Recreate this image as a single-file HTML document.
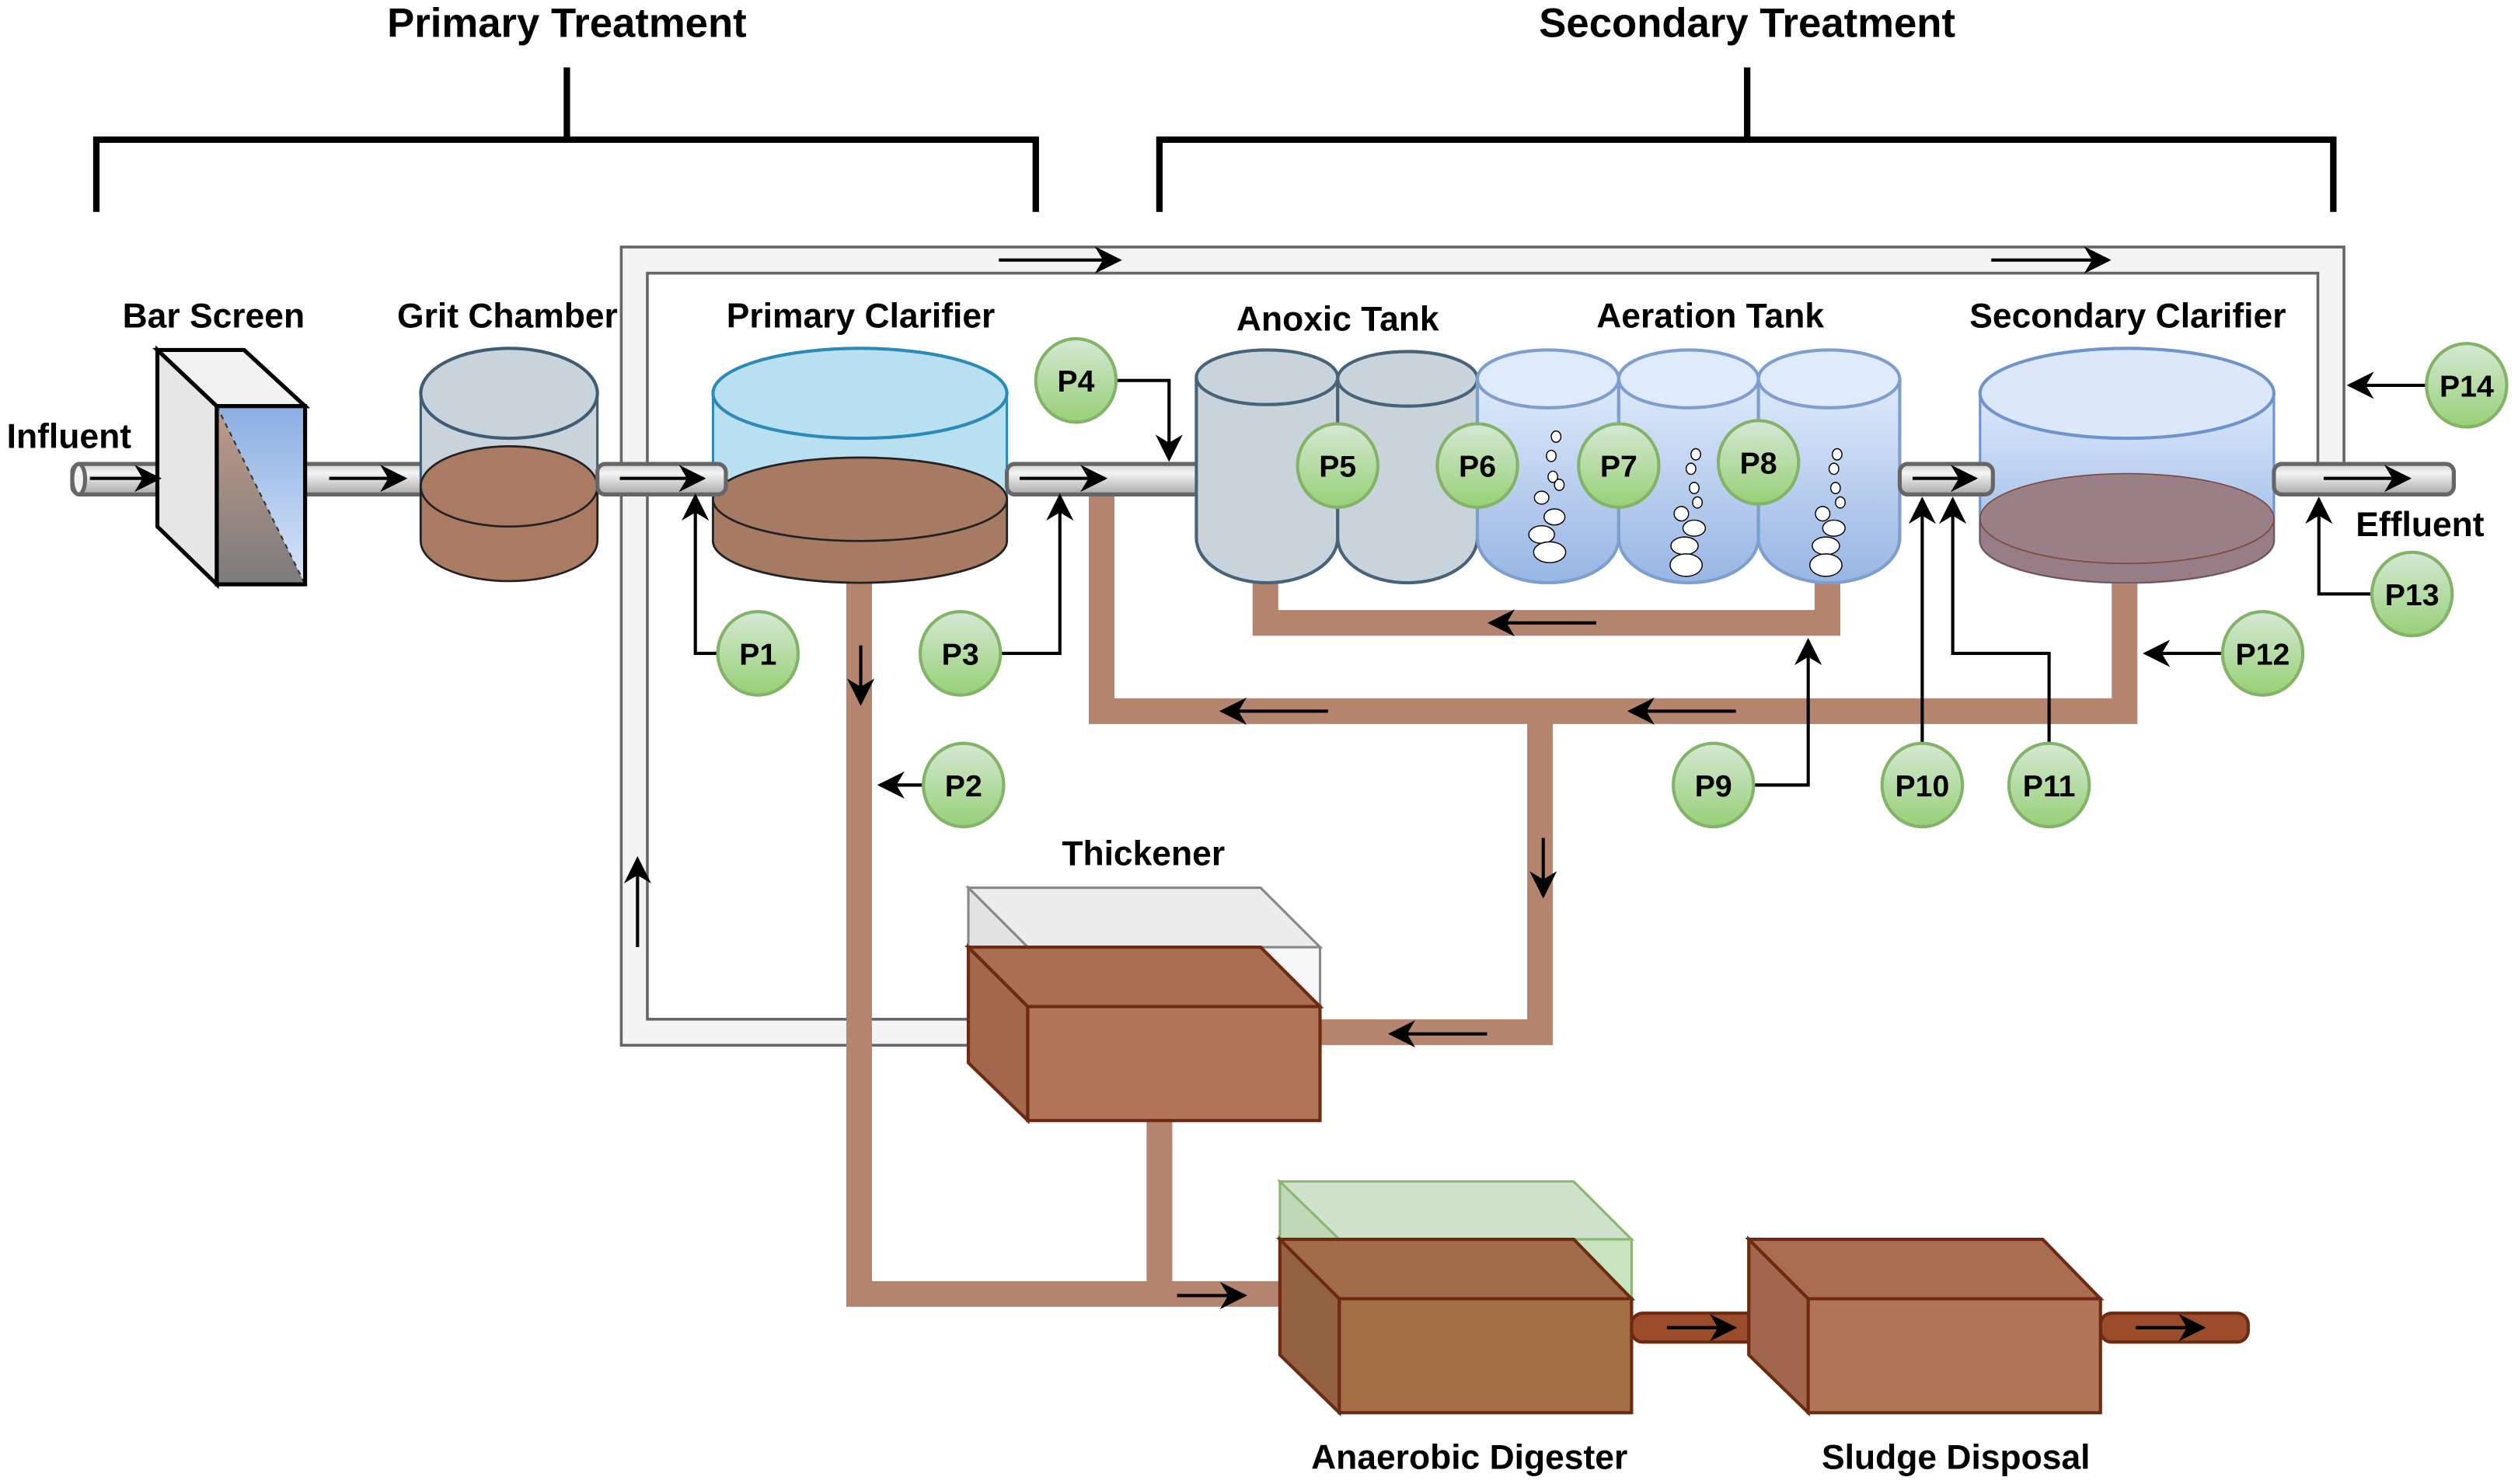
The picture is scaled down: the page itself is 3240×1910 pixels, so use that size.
<!DOCTYPE html>
<html><head><meta charset="utf-8"><style>html,body{margin:0;padding:0;background:#fff}svg{display:block}</style></head>
<body>
<svg width="3240" height="1910" viewBox="0 0 1568 924.4" preserveAspectRatio="none" xmlns="http://www.w3.org/2000/svg" font-family="Liberation Sans, sans-serif" font-weight="bold">
<defs>
<linearGradient id="pipe" x1="0" y1="0" x2="0" y2="1"><stop offset="0" stop-color="#d0d0d0"/><stop offset="0.3" stop-color="#f4f4f4"/><stop offset="1" stop-color="#a8a8a8"/></linearGradient>
<linearGradient id="grn" x1="0" y1="0" x2="0" y2="1"><stop offset="0" stop-color="#d5e8d4"/><stop offset="1" stop-color="#97d077"/></linearGradient>
<linearGradient id="aer" x1="0" y1="0" x2="0" y2="1"><stop offset="0" stop-color="#dfeafa"/><stop offset="1" stop-color="#98b6e4"/></linearGradient>
<linearGradient id="blu" x1="0" y1="0" x2="0" y2="1"><stop offset="0" stop-color="#8aaee2"/><stop offset="1" stop-color="#d8e6fa"/></linearGradient>
<linearGradient id="brn" x1="0" y1="0" x2="0" y2="1"><stop offset="0" stop-color="#c09a88"/><stop offset="1" stop-color="#7c7c7c"/></linearGradient>
<linearGradient id="sec" x1="0" y1="0" x2="0" y2="1"><stop offset="0" stop-color="#dce8fa"/><stop offset="1" stop-color="#8fb1e6"/></linearGradient>
<marker id="ah2" viewBox="0 0 10 10" refX="9" refY="5" markerWidth="17" markerHeight="17" orient="auto" markerUnits="userSpaceOnUse"><path d="M0,0 L10,5 L0,10 L3,5 z" fill="#000"/></marker>
</defs>

<text x="353" y="23" font-size="25.5" text-anchor="middle">Primary Treatment</text>
<text x="1088" y="23" font-size="25.5" text-anchor="middle">Secondary Treatment</text>
<g stroke="#000" stroke-width="4" fill="none">
<path d="M60 132 V87 H645 V132 M353 87 V42"/>
<path d="M722 132 V87 H1453 V132 M1088 87 V42"/>
</g>

<path d="M603 643 H395 V162 H1451.5 V292" fill="none" stroke="#666" stroke-width="18"/>
<path d="M603 643 H395 V162 H1451.5 V292" fill="none" stroke="#f4f4f4" stroke-width="14.5"/>
<g stroke="#000" stroke-width="2" marker-end="url(#ah2)">
<line x1="622" y1="162" x2="697" y2="162"/><line x1="1240" y1="162" x2="1313" y2="162"/>
<line x1="397" y1="590" x2="397" y2="535"/>
</g>

<g fill="none" stroke="#b5846e" stroke-width="16">
<path d="M535 337 V806 H797"/>
<path d="M722 698 V806"/>
<path d="M1323 360 V443 H686 V307"/>
<path d="M959 443 V643 H822"/>
<path d="M788 360 V388 H1138 V360"/>
</g>
<g stroke="#000" stroke-width="2" marker-end="url(#ah2)">
<line x1="536" y1="402" x2="536" y2="438"/>
<line x1="733" y1="807" x2="775" y2="807"/>
<line x1="994" y1="388" x2="928" y2="388"/>
<line x1="1081" y1="443" x2="1015" y2="443"/>
<line x1="827" y1="443" x2="761" y2="443"/>
<line x1="961" y1="522" x2="961" y2="558"/>
<line x1="926" y1="644" x2="866" y2="644"/>
</g>

<g fill="url(#pipe)" stroke="#666" stroke-width="2.5">
<rect x="45" y="289" width="72" height="19" rx="5"/>
<ellipse cx="49" cy="298.5" rx="4" ry="9.5" fill="#f4f4f4"/>
<rect x="180" y="289" width="88" height="19" rx="5"/>
<rect x="372" y="289" width="80" height="19" rx="5"/>
<rect x="627" y="289" width="133" height="19" rx="5"/>
<rect x="1183" y="289" width="58" height="19" rx="5"/>
<rect x="1416" y="289" width="112" height="19" rx="5"/>
</g>

<polygon points="98,218 135,253 135,364 98,328" fill="#e6e6e6" stroke="#000" stroke-width="2.5"/>
<polygon points="98,218 152,218 190,253 135,253" fill="#f2f2f2" stroke="#000" stroke-width="2.5"/>
<rect x="135" y="253" width="55" height="111" fill="url(#blu)"/>
<polygon points="135,253 190,364 135,364" fill="url(#brn)"/>
<line x1="135" y1="253" x2="190" y2="364" stroke="#333" stroke-dasharray="3,3"/>
<rect x="135" y="253" width="55" height="111" fill="none" stroke="#000" stroke-width="2.5"/>

<path d="M262 245 V335 A55 25 0 0 0 372 335 V245" fill="#c8d3dc" stroke="#3f5c72" stroke-width="1.5"/>
<ellipse cx="317" cy="245" rx="55" ry="28" fill="#c8d3dc" stroke="#3f5c72" stroke-width="2"/>
<path d="M262 303 V337 A55 25 0 0 0 372 337 V303" fill="#ab7a63" stroke="#222" stroke-width="1.3"/>
<ellipse cx="317" cy="303" rx="55" ry="25" fill="#ab7a63" stroke="#222" stroke-width="1.3"/>

<path d="M444 245 V337 A91.5 26 0 0 0 627 337 V245" fill="#b9e0f1" stroke="#2b8ab8" stroke-width="1.5"/>
<ellipse cx="535.5" cy="245" rx="91.5" ry="28" fill="#b9e0f1" stroke="#2b8ab8" stroke-width="2"/>
<path d="M444 311 V337 A91.5 26 0 0 0 627 337 V311" fill="#a77a63" stroke="#222" stroke-width="1.3"/>
<ellipse cx="535.5" cy="311" rx="91.5" ry="26" fill="#a77a63" stroke="#222" stroke-width="1.3"/>
<g fill="url(#pipe)" stroke="#666" stroke-width="2.5"><rect x="372" y="289" width="80" height="19" rx="5"/><rect x="627" y="289" width="133" height="19" rx="5"/></g>

<g fill="#c8d3dc" stroke="#47637a" stroke-width="2">
<path d="M745 235 V335 A44 28 0 0 0 833 335 V235 Z"/>
<path d="M833 235 V335 A43.5 28 0 0 0 920 335 V235 Z"/>
<ellipse cx="789" cy="235" rx="44" ry="17"/>
<ellipse cx="876.5" cy="236" rx="43.5" ry="17"/>
</g>
<g fill="url(#aer)" stroke="#7e9ecf" stroke-width="2">
<path d="M920 236 V335 A44 28 0 0 0 1008 335 V236 Z"/>
<path d="M1008 236 V335 A43.5 28 0 0 0 1095 335 V236 Z"/>
<path d="M1095 236 V335 A44 28 0 0 0 1183 335 V236 Z"/>
<ellipse cx="964" cy="236" rx="44" ry="18" fill="#dfeafa"/>
<ellipse cx="1051.5" cy="236" rx="43.5" ry="18" fill="#dfeafa"/>
<ellipse cx="1139" cy="236" rx="44" ry="18" fill="#dfeafa"/>
</g>
<g fill="#fff" stroke="#000" stroke-width="0.7">
<ellipse cx="969" cy="272" rx="3" ry="3.5"/><ellipse cx="966" cy="284" rx="3" ry="3.5"/><ellipse cx="967" cy="297" rx="3" ry="3.5"/><ellipse cx="971" cy="302" rx="3" ry="3.5"/>
<ellipse cx="960" cy="310" rx="4.5" ry="4"/><ellipse cx="968" cy="322" rx="6.5" ry="5"/><ellipse cx="960" cy="333" rx="8" ry="5.5"/><ellipse cx="965" cy="344" rx="10" ry="6.5"/>
<ellipse cx="1056" cy="283" rx="3" ry="3.5"/><ellipse cx="1053" cy="292" rx="3" ry="3.5"/><ellipse cx="1055" cy="304" rx="3" ry="3.5"/><ellipse cx="1057" cy="313" rx="3" ry="3.5"/>
<ellipse cx="1047" cy="320" rx="4.5" ry="4.5"/><ellipse cx="1055" cy="329" rx="7" ry="5"/><ellipse cx="1049" cy="340" rx="8.5" ry="5.5"/><ellipse cx="1050" cy="352" rx="10" ry="7"/>
<ellipse cx="1144" cy="283" rx="3" ry="3.5"/><ellipse cx="1142" cy="292" rx="3" ry="3.5"/><ellipse cx="1143" cy="304" rx="3" ry="3.5"/><ellipse cx="1146" cy="313" rx="3" ry="3.5"/>
<ellipse cx="1135" cy="320" rx="4.5" ry="4.5"/><ellipse cx="1142" cy="329" rx="7" ry="5"/><ellipse cx="1137" cy="340" rx="8.5" ry="5.5"/><ellipse cx="1137" cy="352" rx="10" ry="7"/>
</g>

<path d="M1233 245 V337 A91.5 26 0 0 0 1416 337 V245" fill="url(#sec)" stroke="#6f93cc" stroke-width="1.5"/>
<ellipse cx="1324.5" cy="245" rx="91.5" ry="28" fill="#dce8fa" stroke="#6f93cc" stroke-width="2"/>
<path d="M1233 323 V337 A91.5 26 0 0 0 1416 337 V323" fill="#977d86" stroke="#7a4a40" stroke-width="0.8"/>
<ellipse cx="1324.5" cy="323" rx="91.5" ry="28" fill="#9b7f87" stroke="#7a4a40" stroke-width="0.8"/>
<g fill="url(#pipe)" stroke="#666" stroke-width="2.5"><rect x="1183" y="289" width="58" height="19" rx="5"/><rect x="1416" y="289" width="112" height="19" rx="5"/></g>

<g stroke="#000" stroke-width="2" marker-end="url(#ah2)">
<line x1="56" y1="298" x2="99" y2="298"/>
<line x1="205" y1="298" x2="252" y2="298"/>
<line x1="386" y1="298" x2="438" y2="298"/>
<line x1="635" y1="298" x2="688" y2="298"/>
<line x1="1191" y1="298" x2="1230" y2="298"/>
<line x1="1447" y1="298" x2="1500" y2="298"/>
</g>

<polygon points="603,553 785,553 822,590 640,590" fill="#ececec" stroke="#888" stroke-width="1.5"/>
<polygon points="603,553 640,590 640,627 603,590" fill="#e2e2e2" stroke="#888" stroke-width="1.5"/>
<polygon points="785,590 822,590 822,627 803,627" fill="#f6f6f6" stroke="#888" stroke-width="1.5"/>
<polygon points="603,590 640,627 640,698 603,662" fill="#a1684c" stroke="#6e2a10" stroke-width="2"/>
<polygon points="603,590 785,590 822,627 640,627" fill="#a96f53" stroke="#6e2a10" stroke-width="2"/>
<rect x="640" y="627" width="182" height="71" fill="#b07657" stroke="#6e2a10" stroke-width="2"/>

<polygon points="797,736 980,736 1016,772 834,772" fill="#d0e2cc" stroke="#88b873" stroke-width="1.5"/>
<polygon points="797,736 834,772 834,809 797,772" fill="#c0d8b8" stroke="#88b873" stroke-width="1.5"/>
<polygon points="980,772 1016,772 1016,809" fill="#c8e4bf" stroke="#88b873" stroke-width="1.5"/>
<polygon points="797,772 834,809 834,880 797,844" fill="#936240" stroke="#6e2a10" stroke-width="2"/>
<polygon points="797,772 980,772 1016,809 834,809" fill="#a16c4a" stroke="#6e2a10" stroke-width="2"/>
<rect x="834" y="809" width="182" height="71" fill="#a36e45" stroke="#6e2a10" stroke-width="2"/>

<rect x="1016" y="818" width="92" height="18" rx="7" fill="#9b4d2b" stroke="#6e2a10" stroke-width="2"/>
<rect x="1308" y="818" width="92" height="18" rx="7" fill="#9b4d2b" stroke="#6e2a10" stroke-width="2"/>

<polygon points="1089,772 1126,809 1126,880 1089,844" fill="#a0674c" stroke="#6e2a10" stroke-width="2"/>
<polygon points="1089,772 1272,772 1308,809 1126,809" fill="#a96e51" stroke="#6e2a10" stroke-width="2"/>
<rect x="1126" y="809" width="182" height="71" fill="#b07657" stroke="#6e2a10" stroke-width="2"/>
<g stroke="#000" stroke-width="2" marker-end="url(#ah2)">
<line x1="1038" y1="827" x2="1080" y2="827"/>
<line x1="1330" y1="827" x2="1372" y2="827"/>
</g>

<g stroke="#000" stroke-width="2" fill="none" marker-end="url(#ah2)">
<path d="M447 407 H433 V309"/>
<path d="M623 407 H660 V309"/>
<path d="M575 489 H548"/>
<path d="M695 237 H728 V286"/>
<path d="M1092 489 H1126 V399"/>
<path d="M1197 464 V311"/>
<path d="M1276 464 V407 H1216 V311"/>
<path d="M1384 407 H1336"/>
<path d="M1477 370 H1444 V311"/>
<path d="M1511 240 H1463"/>
</g>

<g fill="url(#grn)" stroke="#82b366" stroke-width="2">
<ellipse cx="472" cy="407" rx="25" ry="26"/>
<ellipse cx="600" cy="489" rx="25" ry="26"/>
<ellipse cx="598" cy="407" rx="25" ry="26"/>
<ellipse cx="670" cy="237" rx="25" ry="26"/>
<ellipse cx="833" cy="290" rx="25" ry="26"/>
<ellipse cx="920" cy="290" rx="25" ry="26"/>
<ellipse cx="1008" cy="290" rx="25" ry="26"/>
<ellipse cx="1095" cy="288" rx="25" ry="26"/>
<ellipse cx="1067" cy="489" rx="25" ry="26"/>
<ellipse cx="1197" cy="489" rx="25" ry="26"/>
<ellipse cx="1276" cy="489" rx="25" ry="26"/>
<ellipse cx="1409" cy="407" rx="25" ry="26"/>
<ellipse cx="1502" cy="370" rx="25" ry="26"/>
<ellipse cx="1536" cy="240" rx="25" ry="26"/>
</g>
<g font-size="19" text-anchor="middle">
<text x="472" y="414">P1</text><text x="600" y="496">P2</text><text x="598" y="414">P3</text>
<text x="670" y="244">P4</text><text x="833" y="297">P5</text><text x="920" y="297">P6</text>
<text x="1008" y="297">P7</text><text x="1095" y="295">P8</text><text x="1067" y="496">P9</text>
<text x="1197" y="496">P10</text><text x="1276" y="496">P11</text><text x="1409" y="414">P12</text>
<text x="1502" y="377">P13</text><text x="1536" y="247">P14</text>
</g>

<g font-size="21.5" text-anchor="middle">
<text x="133" y="204">Bar Screen</text>
<text x="316" y="204">Grit Chamber</text>
<text x="536" y="204">Primary Clarifier</text>
<text x="833" y="206">Anoxic Tank</text>
<text x="1065" y="204">Aeration Tank</text>
<text x="1325" y="204">Secondary Clarifier</text>
<text x="712" y="539">Thickener</text>
<text x="915" y="915">Anaerobic Digester</text>
<text x="1218" y="915">Sludge Disposal</text>
<text x="43" y="279">Influent</text>
<text x="1507" y="334">Effluent</text>
</g>
</svg>
</body></html>
